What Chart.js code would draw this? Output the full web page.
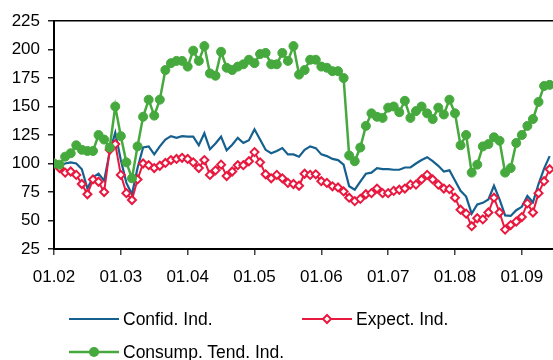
<!DOCTYPE html>
<html>
<head>
<meta charset="utf-8">
<script src="https://cdn.jsdelivr.net/npm/chart.js@4.4.1/dist/chart.umd.min.js"></script>
<style>
  body { margin: 0; background: #fff; font-family: "Liberation Sans", Arial, sans-serif; }
  #wrap { position: relative; width: 553px; height: 360px; overflow: hidden; }
  #legend { position: absolute; left: 0; top: 0; width: 553px; height: 360px; }
  .item { position: absolute; display: flex; align-items: center; height: 24px; font-size: 17.5px; color: #000; white-space: nowrap; }
  .item svg { margin-right: 4px; }
</style>
</head>
<body>
<div id="wrap">
  <canvas id="chart" width="553" height="290"></canvas>
  <div id="legend"></div>
</div>
<script>
// monthly values, Jan 2002 .. Jun 2009
const confid = [
  100, 98, 100, 101, 100, 95, 78, 88, 91, 85,
  110, 127, 103, 83, 73, 96, 114, 115, 108, 115,
  121, 124, 122.5, 124, 123.5, 123.5, 116, 126.5, 112.5, 117.5,
  123.5, 111.5, 116.5, 122.5, 118, 120.5, 130, 121, 112, 109,
  111, 113.5, 108, 108, 106, 112, 115, 113.5, 108, 106.5,
  104, 103, 99, 80, 77, 84, 91, 92, 96, 95,
  95, 94.5, 94.5, 96.5, 96.5, 100, 103, 105.5, 102, 98,
  93, 94, 85, 76, 71, 56, 64, 65.5, 68.5, 80.5,
  68.5, 54.5, 54, 59, 62, 71.5, 66, 82, 95.5, 106.5
];
const expect = [
  100, 96, 92, 93, 90, 82, 73, 86, 84, 75,
  112, 117, 90, 74, 68, 86, 100, 98.5, 96, 98,
  100.5, 103, 104, 105, 104, 101, 96, 103, 90, 94,
  99, 89, 93, 98.5, 98.5, 102, 110, 101, 90.5, 87,
  90, 87, 83, 82, 80.5, 91, 90, 90.5, 84.5, 83,
  80, 79, 75.5, 70, 67, 69, 73, 74, 78, 74,
  74, 76, 77, 78, 81.5, 81.5, 86, 90, 86, 81.5,
  78, 77.5, 70, 59.5, 56, 45, 52, 51, 57, 70,
  57, 42, 46, 49, 53, 65, 57, 74, 84.5, 95
];
const consump = [
  100, 99, 106, 109, 116, 112, 111, 111, 125, 121,
  114, 150, 124, 101, 87, 115, 141, 156, 142, 156,
  182, 188, 190, 190, 185, 199, 190, 203, 179, 177,
  198, 184, 182, 185, 187, 191, 188, 196, 197, 187,
  187, 197, 190, 203, 178, 182, 191, 191, 185, 184,
  181, 181, 175, 107, 102, 114, 133, 144, 141, 140,
  149, 150, 145, 155, 140, 146, 150, 144, 139, 149,
  143, 156, 144, 116, 125, 92, 99, 115, 117, 123,
  120, 92, 96, 118, 125, 133, 139, 154, 168, 169
];

// month labels "MM.YY", one per value
const months = confid.map((_, i) => {
  const m = (i % 12) + 1;
  const y = 2002 + Math.floor(i / 12);
  return String(m).padStart(2, '0') + '.' + String(y).slice(2);
});
// axis labels only on January
const yearTicks = months.map((m, i) => m.startsWith('01.') ? i : -1).filter(i => i >= 0);

const BLUE = '#15608f';
const RED = '#e8183f';
const GREEN = '#46a93d';
const tickFont = { family: '"Liberation Sans", Arial, sans-serif', size: 17 };
const xMax = months.length - 1 + 0.6;

const toPoints = vals => vals.map((v, i) => ({ x: i, y: v }));

const chart = new Chart(document.getElementById('chart'), {
  type: 'line',
  data: {
    datasets: [
      {
        label: 'Confid. Ind.',
        data: toPoints(confid),
        borderColor: BLUE,
        borderWidth: 2.2,
        pointRadius: 0,
        order: 3
      },
      {
        label: 'Expect. Ind.',
        data: toPoints(expect),
        borderColor: RED,
        borderWidth: 2,
        pointStyle: 'rectRot',
        pointRadius: 4,
        pointBorderWidth: 2,
        pointBackgroundColor: '#fff',
        pointBorderColor: RED,
        order: 2
      },
      {
        label: 'Consump. Tend. Ind.',
        data: toPoints(consump),
        borderColor: GREEN,
        borderWidth: 2.5,
        pointStyle: 'circle',
        pointRadius: 4.5,
        pointBorderWidth: 1,
        pointBackgroundColor: GREEN,
        pointBorderColor: GREEN,
        order: 1
      }
    ]
  },
  options: {
    responsive: false,
    animation: false,
    devicePixelRatio: 1,
    layout: { autoPadding: false, padding: { top: 21, right: 0, bottom: 0, left: 0 } },
    plugins: { legend: { display: false }, tooltip: { enabled: false } },
    elements: { line: { tension: 0 } },
    scales: {
      x: {
        type: 'linear',
        min: 0,
        max: xMax,
        afterBuildTicks: s => { s.ticks = yearTicks.map(v => ({ value: v })); },
        ticks: {
          callback: v => months[v],
          font: tickFont,
          color: '#000',
          padding: 12,
          maxRotation: 0,
          autoSkip: false
        },
        grid: { drawOnChartArea: false, drawTicks: true, tickLength: 6, color: '#444', lineWidth: 1.5 },
        border: { color: '#000', width: 2 },
        afterFit: s => { s.height = 41; s.paddingLeft = 0; s.paddingRight = 0; }
      },
      xTop: {
        type: 'linear',
        position: 'top',
        min: 0,
        max: xMax,
        ticks: { display: false },
        grid: { display: false },
        border: { color: '#000', width: 1.5 },
        afterFit: s => { s.height = 0; s.paddingLeft = 0; s.paddingRight = 0; }
      },
      y: {
        min: 25,
        max: 225,
        ticks: { stepSize: 25, font: tickFont, color: '#000', padding: 8 },
        grid: { drawOnChartArea: false, drawTicks: true, tickLength: 6, color: '#222', lineWidth: 1.5 },
        border: { color: '#000', width: 2 },
        afterFit: s => { s.width = 54; s.paddingTop = 0; s.paddingBottom = 0; }
      }
    }
  }
});

// legend laid out in two columns like the original
const legendSlots = [[69, 319], [302, 319], [69, 352]];
const legend = document.getElementById('legend');
const svgNS = 'http://www.w3.org/2000/svg';

chart.data.datasets.forEach((ds, i) => {
  const item = document.createElement('div');
  item.className = 'item';
  item.style.left = legendSlots[i][0] + 'px';
  item.style.top = (legendSlots[i][1] - 12) + 'px';

  const svg = document.createElementNS(svgNS, 'svg');
  svg.setAttribute('width', '50');
  svg.setAttribute('height', '14');
  const line = document.createElementNS(svgNS, 'line');
  line.setAttribute('x1', '0'); line.setAttribute('x2', '50');
  line.setAttribute('y1', '7'); line.setAttribute('y2', '7');
  line.setAttribute('stroke', ds.borderColor);
  line.setAttribute('stroke-width', ds.borderWidth);
  svg.appendChild(line);

  if (ds.pointStyle === 'rectRot') {
    const p = document.createElementNS(svgNS, 'polygon');
    p.setAttribute('points', '25,3 29,7 25,11 21,7');
    p.setAttribute('fill', '#fff');
    p.setAttribute('stroke', ds.borderColor);
    p.setAttribute('stroke-width', '2');
    svg.appendChild(p);
  } else if (ds.pointStyle === 'circle') {
    const c = document.createElementNS(svgNS, 'circle');
    c.setAttribute('cx', '25'); c.setAttribute('cy', '7'); c.setAttribute('r', '5');
    c.setAttribute('fill', ds.borderColor);
    svg.appendChild(c);
  }

  const text = document.createElement('span');
  text.textContent = ds.label;
  item.appendChild(svg);
  item.appendChild(text);
  legend.appendChild(item);
});
</script>
</body>
</html>
